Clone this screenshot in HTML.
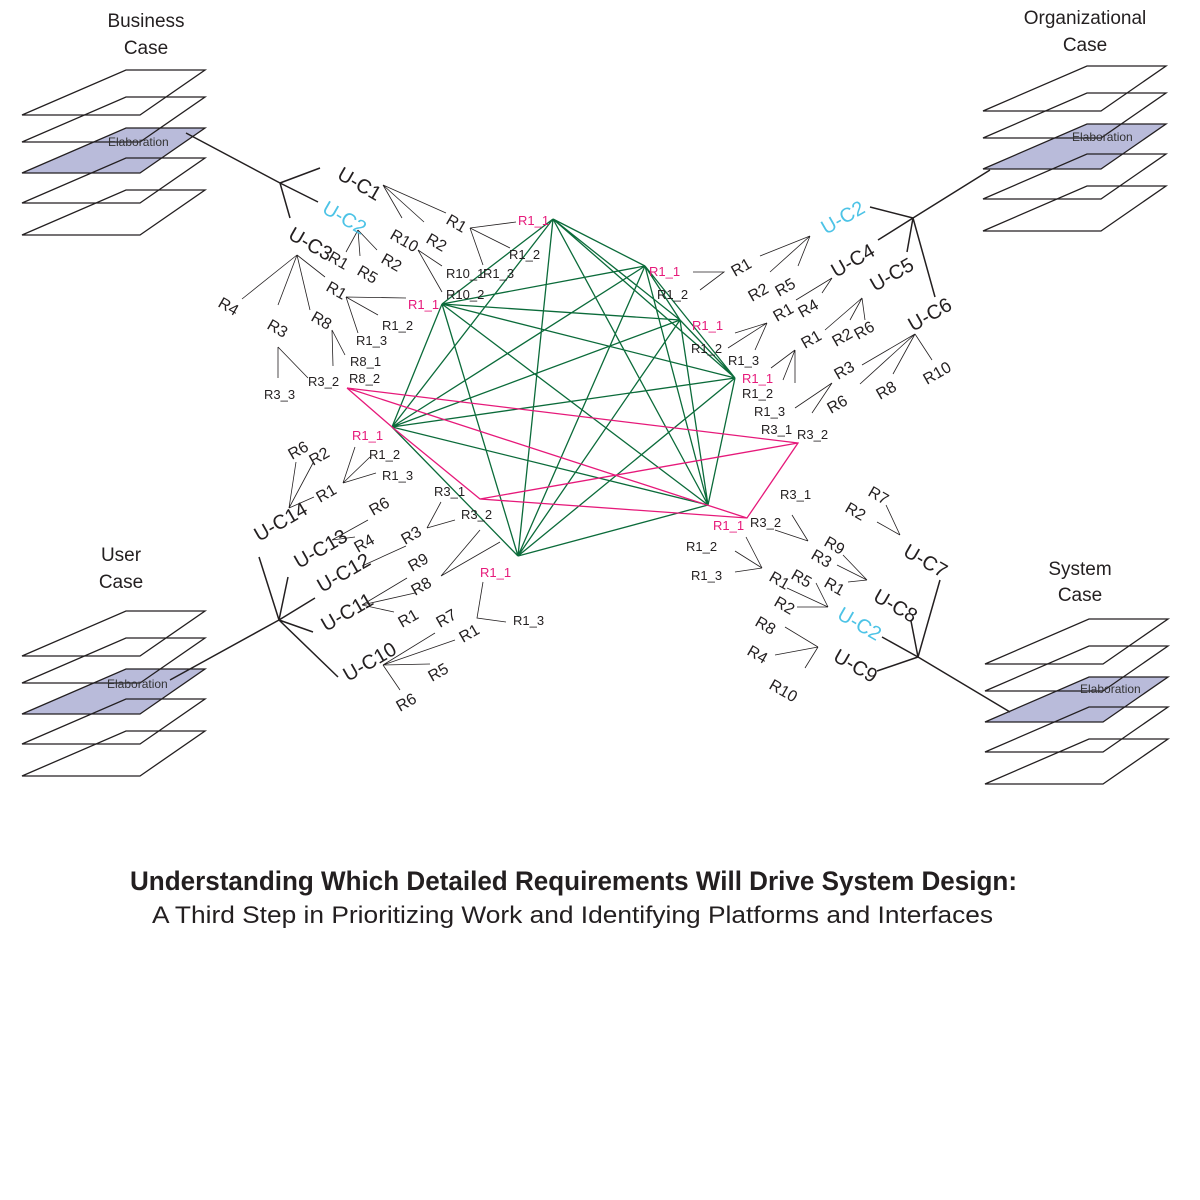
<!DOCTYPE html>
<html><head><meta charset="utf-8"><style>
html,body{margin:0;padding:0;background:#fff}
svg{display:block}
text{font-family:"Liberation Sans",sans-serif;fill:#231f20}
.uc{font-size:20px}
.r{font-size:16px}
.s{font-size:13px}
.p{fill:#e6197a}
.c{fill:#4cc3e6}
.t{font-size:19px;text-anchor:middle}
.e{font-size:12px;fill:#333}
</style></head><body>
<svg width="1200" height="1200" viewBox="0 0 1200 1200" xmlns="http://www.w3.org/2000/svg">
<defs>
<g id="stack">
 <polygon points="104,58 183,58 118,103 0,103" fill="#b9bbda" stroke="#231f20" stroke-width="1.3"/>
 <polygon points="104,0 183,0 118,45 0,45" fill="none" stroke="#231f20" stroke-width="1.3"/>
 <polygon points="104,27 183,27 118,72 0,72" fill="none" stroke="#231f20" stroke-width="1.3"/>
 <polygon points="104,88 183,88 118,133 0,133" fill="none" stroke="#231f20" stroke-width="1.3"/>
 <polygon points="104,120 183,120 118,165 0,165" fill="none" stroke="#231f20" stroke-width="1.3"/>
</g>
</defs>
<use href="#stack" x="22" y="70"/>
<use href="#stack" x="983" y="66"/>
<use href="#stack" x="22" y="611"/>
<use href="#stack" x="985" y="619"/>
<text class="e" x="108" y="146">Elaboration</text>
<text class="e" x="1072" y="141">Elaboration</text>
<text class="e" x="107" y="688">Elaboration</text>
<text class="e" x="1080" y="693">Elaboration</text>
<text class="t" x="146" y="27">Business</text><text class="t" x="146" y="54">Case</text>
<text class="t" x="1085" y="24">Organizational</text><text class="t" x="1085" y="51">Case</text>
<text class="t" x="121" y="561">User</text><text class="t" x="121" y="588">Case</text>
<text class="t" x="1080" y="575">System</text><text class="t" x="1080" y="601">Case</text>

<g stroke="#231f20" stroke-width="1.5" fill="none">
 <path d="M186,133 L280,183 M280,183 L320,168 M280,183 L318,202 M280,183 L290,218"/>
 <path d="M913,218 L990,170 M913,218 L870,207 M913,218 L878,240 M913,218 L907,252 M913,218 L935,297"/>
 <path d="M170,680 L279,620 M279,620 L259,557 M279,620 L288,577 M279,620 L315,598 M279,620 L313,632 M279,620 L338,677"/>
 <path d="M1010,712 L918,657 M918,657 L940,580 M918,657 L911,621 M918,657 L882,637 M918,657 L877,671"/>
</g>

<g stroke="#231f20" stroke-width="0.8" fill="none">
 <path d="M383,185 L402,218 M383,185 L424,222 M383,185 L446,213"/>
 <path d="M470,228 L516,222 M470,228 L510,248 M470,228 L483,265"/>
 <path d="M418,250 L442,266 M418,250 L442,292"/>
 <path d="M358,230 L346,252 M358,230 L360,256 M358,230 L377,250"/>
 <path d="M297,255 L242,299 M297,255 L278,305 M297,255 L310,310 M297,255 L325,277"/>
 <path d="M346,297 L406,298 M346,297 L378,315 M346,297 L358,333"/>
 <path d="M332,330 L333,366 M332,330 L345,355"/>
 <path d="M278,347 L278,378 M278,347 L308,378"/>
 <path d="M810,236 L760,256 M810,236 L770,272 M810,236 L798,266"/>
 <path d="M693,272 L724,272 L700,290"/>
 <path d="M832,278 L796,300 M832,278 L822,293"/>
 <path d="M767,323 L735,333 M767,323 L728,348 M767,323 L755,350"/>
 <path d="M862,298 L825,330 M862,298 L850,320 M862,298 L865,320"/>
 <path d="M795,350 L771,368 M795,350 L783,380 M795,350 L795,383"/>
 <path d="M915,334 L862,365 M915,334 L860,384 M915,334 L893,374 M915,334 L932,360"/>
 <path d="M832,383 L795,408 M832,383 L812,413"/>
 <path d="M289,508 L296,462 M289,508 L313,463 M289,508 L314,497"/>
 <path d="M343,483 L355,447 M343,483 L370,457 M343,483 L376,473"/>
 <path d="M332,540 L368,520 M332,540 L355,537"/>
 <path d="M362,566 L406,546"/>
 <path d="M427,528 L441,502 M427,528 L455,520"/>
 <path d="M362,605 L407,578 M362,605 L415,593 M362,605 L394,612"/>
 <path d="M441,576 L480,530 M441,576 L500,542"/>
 <path d="M483,582 L477,618 L506,622"/>
 <path d="M383,665 L435,633 M383,665 L455,640 M383,665 L430,664 M383,665 L400,690"/>
 <path d="M886,505 L900,535 M877,522 L900,535"/>
 <path d="M867,580 L843,555 M867,580 L837,565 M867,580 L848,582"/>
 <path d="M792,515 L808,541 M775,530 L808,541"/>
 <path d="M746,537 L762,568 M735,551 L762,568 M735,572 L762,568"/>
 <path d="M828,607 L787,588 M828,607 L816,583 M828,607 L797,607"/>
 <path d="M818,647 L785,627 M818,647 L775,655 M818,647 L805,668"/>
</g>

<g stroke="#0b6b3a" stroke-width="1.3" fill="none">
<path d="M553,219L645,266M553,219L680,320M553,219L735,378M553,219L708,505M553,219L518,556M553,219L392,427M553,219L442,304
M645,266L680,320M645,266L735,378M645,266L708,505M645,266L518,556M645,266L392,427M645,266L442,304
M680,320L735,378M680,320L708,505M680,320L518,556M680,320L392,427M680,320L442,304
M735,378L708,505M735,378L518,556M735,378L392,427M735,378L442,304
M708,505L518,556M708,505L392,427M708,505L442,304
M518,556L392,427M518,556L442,304
M392,427L442,304"/>
</g>
<g stroke="#e6197a" stroke-width="1.3" fill="none">
<path d="M347,388L392,427L480,499L747,518L798,443L347,388 M480,499L798,443 M347,388L747,518"/>
</g>

<text class="uc" transform="translate(336,178) rotate(30)">U-C1</text>
<text class="uc c" transform="translate(321,212) rotate(30)">U-C2</text>
<text class="uc" transform="translate(287,238) rotate(30)">U-C3</text>
<text class="r" transform="translate(389,238) rotate(30)">R10</text>
<text class="r" transform="translate(425,242) rotate(30)">R2</text>
<text class="r" transform="translate(445,223) rotate(30)">R1</text>
<text class="s p" x="518" y="225">R1_1</text>
<text class="s" x="509" y="259">R1_2</text>
<text class="s" x="483" y="278">R1_3</text>
<text class="s" x="446" y="278">R10_1</text>
<text class="s" x="446" y="299">R10_2</text>
<text class="r" transform="translate(327,260) rotate(30)">R1</text>
<text class="r" transform="translate(356,274) rotate(30)">R5</text>
<text class="r" transform="translate(380,262) rotate(30)">R2</text>
<text class="r" transform="translate(217,306) rotate(30)">R4</text>
<text class="r" transform="translate(266,328) rotate(30)">R3</text>
<text class="r" transform="translate(310,320) rotate(30)">R8</text>
<text class="r" transform="translate(325,290) rotate(30)">R1</text>
<text class="s p" x="408" y="309">R1_1</text>
<text class="s" x="382" y="330">R1_2</text>
<text class="s" x="356" y="345">R1_3</text>
<text class="s" x="350" y="366">R8_1</text>
<text class="s" x="349" y="383">R8_2</text>
<text class="s" x="308" y="386">R3_2</text>
<text class="s" x="264" y="399">R3_3</text>

<text class="uc c" transform="translate(826,235) rotate(-30)">U-C2</text>
<text class="uc" transform="translate(836,278) rotate(-30)">U-C4</text>
<text class="uc" transform="translate(875,292) rotate(-30)">U-C5</text>
<text class="uc" transform="translate(913,332) rotate(-30)">U-C6</text>
<text class="r" transform="translate(735,277) rotate(-30)">R1</text>
<text class="r" transform="translate(752,302) rotate(-30)">R2</text>
<text class="r" transform="translate(779,297) rotate(-30)">R5</text>
<text class="s p" x="649" y="276">R1_1</text>
<text class="s" x="657" y="299">R1_2</text>
<text class="r" transform="translate(777,322) rotate(-30)">R1</text>
<text class="r" transform="translate(802,318) rotate(-30)">R4</text>
<text class="s p" x="692" y="330">R1_1</text>
<text class="s" x="691" y="353">R1_2</text>
<text class="s" x="728" y="365">R1_3</text>
<text class="r" transform="translate(805,349) rotate(-30)">R1</text>
<text class="r" transform="translate(836,347) rotate(-30)">R2</text>
<text class="r" transform="translate(858,340) rotate(-30)">R6</text>
<text class="s p" x="742" y="383">R1_1</text>
<text class="s" x="742" y="398">R1_2</text>
<text class="s" x="754" y="416">R1_3</text>
<text class="r" transform="translate(838,380) rotate(-30)">R3</text>
<text class="r" transform="translate(831,414) rotate(-30)">R6</text>
<text class="r" transform="translate(880,400) rotate(-30)">R8</text>
<text class="r" transform="translate(927,385) rotate(-30)">R10</text>
<text class="s" x="761" y="434">R3_1</text>
<text class="s" x="797" y="439">R3_2</text>

<text class="uc" transform="translate(259,542) rotate(-30)">U-C14</text>
<text class="uc" transform="translate(299,569) rotate(-30)">U-C13</text>
<text class="uc" transform="translate(322,593) rotate(-30)">U-C12</text>
<text class="uc" transform="translate(326,632) rotate(-30)">U-C11</text>
<text class="uc" transform="translate(348,682) rotate(-30)">U-C10</text>
<text class="r" transform="translate(292,460) rotate(-30)">R6</text>
<text class="r" transform="translate(313,466) rotate(-30)">R2</text>
<text class="r" transform="translate(320,503) rotate(-30)">R1</text>
<text class="s p" x="352" y="440">R1_1</text>
<text class="s" x="369" y="459">R1_2</text>
<text class="s" x="382" y="480">R1_3</text>
<text class="r" transform="translate(373,516) rotate(-30)">R6</text>
<text class="r" transform="translate(358,553) rotate(-30)">R4</text>
<text class="r" transform="translate(405,545) rotate(-30)">R3</text>
<text class="s" x="434" y="496">R3_1</text>
<text class="s" x="461" y="519">R3_2</text>
<text class="r" transform="translate(412,572) rotate(-30)">R9</text>
<text class="r" transform="translate(415,596) rotate(-30)">R8</text>
<text class="r" transform="translate(402,628) rotate(-30)">R1</text>
<text class="s p" x="480" y="577">R1_1</text>
<text class="s" x="513" y="625">R1_3</text>
<text class="r" transform="translate(440,628) rotate(-30)">R7</text>
<text class="r" transform="translate(463,643) rotate(-30)">R1</text>
<text class="r" transform="translate(432,682) rotate(-30)">R5</text>
<text class="r" transform="translate(400,712) rotate(-30)">R6</text>

<text class="uc" transform="translate(902,555) rotate(30)">U-C7</text>
<text class="uc" transform="translate(872,600) rotate(30)">U-C8</text>
<text class="uc c" transform="translate(836,618) rotate(30)">U-C2</text>
<text class="uc" transform="translate(832,660) rotate(30)">U-C9</text>
<text class="r" transform="translate(867,495) rotate(30)">R7</text>
<text class="r" transform="translate(844,511) rotate(30)">R2</text>
<text class="s" x="780" y="499">R3_1</text>
<text class="s" x="750" y="527">R3_2</text>
<text class="s p" x="713" y="530">R1_1</text>
<text class="s" x="686" y="551">R1_2</text>
<text class="s" x="691" y="580">R1_3</text>
<text class="r" transform="translate(823,545) rotate(30)">R9</text>
<text class="r" transform="translate(810,558) rotate(30)">R3</text>
<text class="r" transform="translate(823,586) rotate(30)">R1</text>
<text class="r" transform="translate(768,580) rotate(30)">R1</text>
<text class="r" transform="translate(790,578) rotate(30)">R5</text>
<text class="r" transform="translate(773,605) rotate(30)">R2</text>
<text class="r" transform="translate(754,625) rotate(30)">R8</text>
<text class="r" transform="translate(746,654) rotate(30)">R4</text>
<text class="r" transform="translate(768,688) rotate(30)">R10</text>

<text x="130" y="890" font-size="27" font-weight="bold" textLength="887" lengthAdjust="spacingAndGlyphs">Understanding Which Detailed  Requirements Will Drive System Design:</text>
<text x="152" y="923" font-size="24" textLength="841" lengthAdjust="spacingAndGlyphs">A Third Step in Prioritizing Work and Identifying Platforms and Interfaces</text>
</svg>
</body></html>
